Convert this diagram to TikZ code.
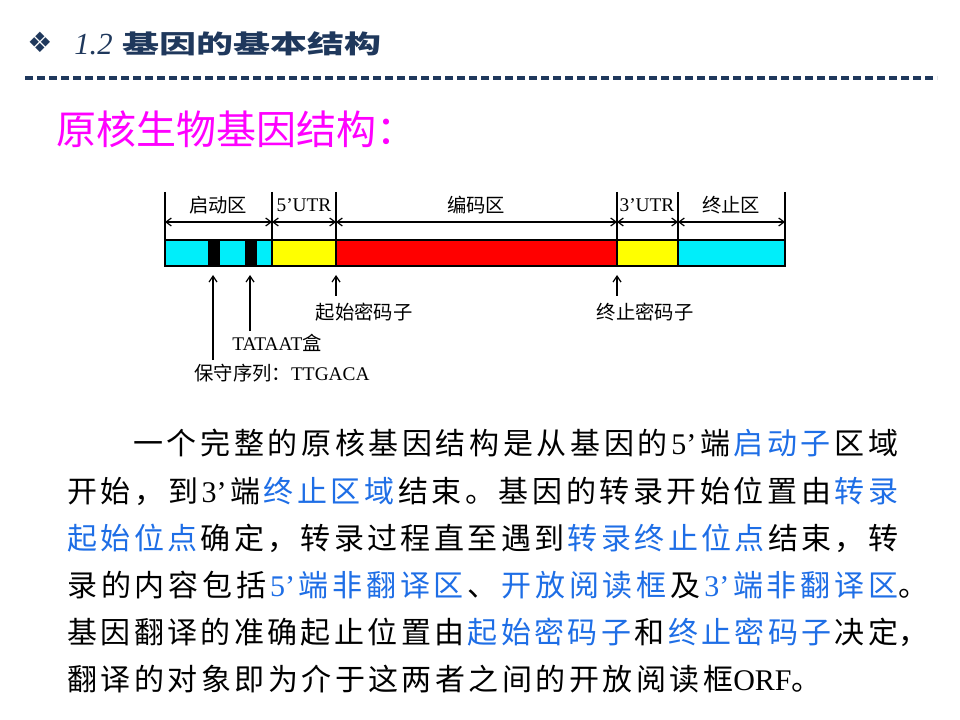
\documentclass[tikz,border=0pt]{standalone}
\usepackage{fontspec}
\setmainfont{Liberation Serif}
\newfontfamily\cjk{Noto Sans CJK SC}
\newfontfamily\symf{DejaVu Sans}
\usetikzlibrary{arrows.meta}
\definecolor{navy}{RGB}{31,56,92}
\definecolor{linkblue}{RGB}{30,110,230}
\definecolor{mag}{RGB}{255,0,255}
\definecolor{segcyan}{RGB}{0,238,250}
\definecolor{segyellow}{RGB}{255,255,0}
\definecolor{segred}{RGB}{255,0,0}
\def\spreadend{SPREADEND}
\def\spreadit#1{\spreadB#1\spreadend}
\def\spreadB#1{#1\spreadC}
\def\spreadC#1{\ifx#1\spreadend\else\hfil#1\expandafter\spreadC\fi}
\newcommand\lat[1]{{\rmfamily #1}}
\newcommand\hl[1]{{\color{linkblue}#1}}
\begin{document}
\begin{tikzpicture}[x=0.75pt,y=-0.75pt,
  seg/.style={draw=black,line width=1.6pt,inner sep=0pt,outer sep=0pt,anchor=north west,minimum height=19.5pt},
  tickline/.style={line width=0.9pt},
  dimline/.style={line width=0.9pt,{Straight Barb[length=4pt,width=6pt]}-{Straight Barb[length=4pt,width=6pt]}},
  uparrow/.style={line width=0.9pt,-{Straight Barb[length=4.5pt,width=6pt]}},
  dlab/.style={font=\cjk\fontsize{14.5}{14.5}\selectfont,inner sep=0pt},
  body/.style={anchor=west,inner sep=0pt,font=\cjk\fontsize{22.5}{26}\selectfont},
]
\fill[white] (0,0) rectangle (960,720);
\path[use as bounding box] (0,0) rectangle (960,720);

% header
\node[anchor=west,text=navy,inner sep=0pt] (dia) at (27,42) {\symf\fontsize{21}{21}\selectfont ❖};
\node[anchor=base west,text=navy,inner sep=0pt] (num) at (74,55) {\fontsize{23}{23}\selectfont\itshape 1.2};
\node[anchor=west,text=navy,inner sep=0pt,xscale=1.46] (ttl) at (122,44) {\cjk\bfseries\fontsize{19}{19}\selectfont 基因的基本结构};
\coordinate (hl0) at (25,78);
\coordinate (hl1) at (937,78);
\draw[navy,line width=2.4pt,dash pattern=on 6pt off 3pt] (hl0) -- (hl1);

\node[anchor=west,text=mag,inner sep=0pt] (hd) at (56,129) {\cjk\fontsize{30}{30}\selectfont 原核生物基因结构：};

% gene bar
\node[seg,fill=segcyan,minimum width=80.25pt] (pr) at (165,240) {};
\node[seg,fill=black,minimum width=7.5pt] (b1) at (209,240) {};
\node[seg,fill=black,minimum width=7.5pt] (b2) at (246,240) {};
\node[seg,fill=segyellow,minimum width=48pt] (u5) at (272,240) {};
\node[seg,fill=segred,minimum width=210.75pt] (cd) at (336,240) {};
\node[seg,fill=segyellow,minimum width=45.75pt] (u3) at (617,240) {};
\node[seg,fill=segcyan,minimum width=80.25pt] (te) at (678,240) {};

% ticks
\foreach \i/\x in {0/165,1/272,2/336,3/617,4/678,5/785}{
  \coordinate (t\i) at (\x,192);
  \coordinate (m\i) at (\x,222);
  \coordinate (tb\i) at (\x,240);
  \draw[tickline] (t\i) -- (tb\i);
}
\draw[dimline] (m0) -- (m1);
\draw[dimline] (m1) -- (m2);
\draw[dimline] (m2) -- (m3);
\draw[dimline] (m3) -- (m4);
\draw[dimline] (m4) -- (m5);

\node[dlab] (lpr) at (218,205) {启动区};
\node[dlab] (lu5) at (304,205) {\lat{5’UTR}};
\node[dlab] (lcd) at (476,205) {编码区};
\node[dlab] (lu3) at (647,205) {\lat{3’UTR}};
\node[dlab] (lte) at (731,205) {终止区};

% bottom arrows
\coordinate (a1s) at (213,360); \coordinate (a1e) at (213,275);
\coordinate (a2s) at (250,331); \coordinate (a2e) at (250,275);
\coordinate (a3s) at (336,296); \coordinate (a3e) at (336,275);
\coordinate (a4s) at (617,296); \coordinate (a4e) at (617,275);
\draw[uparrow] (a1s) -- (a1e);
\draw[uparrow] (a2s) -- (a2e);
\draw[uparrow] (a3s) -- (a3e);
\draw[uparrow] (a4s) -- (a4e);

\node[dlab] (lstart) at (364,312) {起始密码子};
\node[dlab] (lstop) at (645,312) {终止密码子};
\node[dlab] (ltata) at (277,343) {\lat{TATAAT}盒};
\node[dlab] (lcons) at (282,373) {保守序列：\lat{TTGACA}};

% body text
\node[body] (p1) at (133,443) {\hbox to 573.75pt{\spreadit{一个完整的原核基因结构是从基因的}\hfil\lat{5’}\hfil\spreadit{端}\hfil\hl{\spreadit{启动子}}\hfil\spreadit{区域}}};
\node[body] (p2) at (67,491) {\hbox to 623.25pt{\spreadit{开始，到}\hfil\lat{3’}\hfil\spreadit{端}\hfil\hl{\spreadit{终止区域}}\hfil\spreadit{结束。基因的转录开始位置由}\hfil\hl{\spreadit{转录}}}};
\node[body] (p3) at (67,538) {\hbox to 623.25pt{\hl{\spreadit{起始位点}}\hfil\spreadit{确定，转录过程直至遇到}\hfil\hl{\spreadit{转录终止位点}}\hfil\spreadit{结束，转}}};
\node[body] (p4) at (67,585) {\hbox to 623.25pt{\spreadit{录的内容包括}\hfil\hl{\lat{5’}}\hfil\hl{\spreadit{端非翻译区}}\hfil\spreadit{、}\hfil\hl{\spreadit{开放阅读框}}\hfil\spreadit{及}\hfil\hl{\lat{3’}}\hfil\hl{\spreadit{端非翻译区}}}。};
\node[body] (p5) at (67,632) {\hbox to 623.25pt{\spreadit{基因翻译的准确起止位置由}\hfil\hl{\spreadit{起始密码子}}\hfil\spreadit{和}\hfil\hl{\spreadit{终止密码子}}\hfil\spreadit{决定}}，};
\node[body] (p6) at (67,679) {\hbox to 499.5pt{\spreadit{翻译的对象即为介于这两者之间的开放阅读框}}\lat{ORF}。};
\end{tikzpicture}
\end{document}
